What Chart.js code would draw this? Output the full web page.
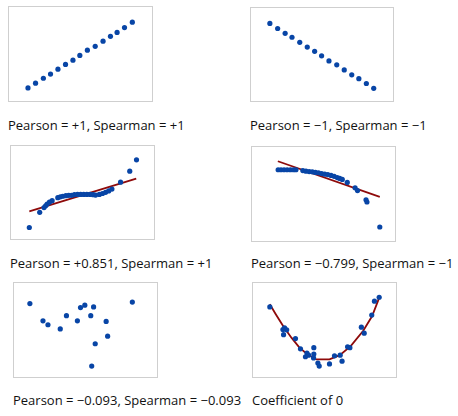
<!DOCTYPE html>
<html>
<head>
<meta charset="utf-8">
<script src="https://cdn.jsdelivr.net/npm/chart.js@4.4.1/dist/chart.umd.min.js"></script>
<style>
  html, body { margin: 0; padding: 0; background: #fff; }
  body { width: 458px; height: 416px; position: relative; overflow: hidden;
         font-family: "Open Sans", "Noto Sans", sans-serif; }
  .box { position: absolute; border: 1px solid #cfcfcf; box-sizing: border-box; }
  .box canvas { display: block; }
  .label { position: absolute; font-size: 13px; line-height: 13px; color: #111; white-space: nowrap; }
</style>
</head>
<body>
<div class="box" style="left:8px;top:6px;width:145px;height:96px"><canvas id="c1"></canvas></div>
<div class="box" style="left:250px;top:7px;width:144px;height:95px"><canvas id="c2"></canvas></div>
<div class="box" style="left:10px;top:145px;width:145px;height:95px"><canvas id="c3"></canvas></div>
<div class="box" style="left:251px;top:146px;width:145px;height:96px"><canvas id="c4"></canvas></div>
<div class="box" style="left:13px;top:282px;width:145px;height:96px"><canvas id="c5"></canvas></div>
<div class="box" style="left:252px;top:282px;width:145px;height:96px"><canvas id="c6"></canvas></div>

<div class="label" style="left:8px;top:119px">Pearson = +1, Spearman = +1</div>
<div class="label" style="left:250px;top:119px">Pearson = −1, Spearman = −1</div>
<div class="label" style="left:10px;top:257px">Pearson = +0.851, Spearman = +1</div>
<div class="label" style="left:251px;top:257px">Pearson = −0.799, Spearman = −1</div>
<div class="label" style="left:13px;top:394px">Pearson = −0.093, Spearman = −0.093</div>
<div class="label" style="left:252px;top:394px">Coefficient of 0</div>

<script>
// values are percent of each panel's box (0..100 on both axes)
const p1X = [11.1, 16.7, 22.5, 27.8, 33.3, 38.9, 44.4, 49.5, 55.1, 60.9, 66.7, 72.2, 77.1, 82.6, 88.4];
const p1Y = [10.5, 16.1, 21.8, 26.7, 32.3, 37.9, 42.8, 48.4, 54.4, 58.9, 64.9, 70.5, 75.1, 80.7, 87.0];

const p2X = [11.1, 16.9, 22.5, 27.6, 33.4, 39.0, 44.5, 49.7, 55.2, 61.0, 66.6, 72.2, 77.5, 83.1, 88.6];
const p2Y = [86.6, 80.6, 74.9, 70.3, 64.3, 58.7, 53.7, 48.4, 42.4, 37.8, 31.8, 26.1, 21.6, 15.9, 10.2];

const p3X = [10.6, 18.3, 21.5, 22.7, 23.8, 25.5, 27.5, 31.7, 33.6, 35.4, 37.7, 39.8, 41.9, 44.0, 46.3,
             48.6, 50.9, 53.2, 55.6, 57.9, 59.7, 62.5, 64.8, 67.1, 69.4, 71.8, 78.2, 85.0, 90.0];
const p3Y = [8.8, 26.7, 32.3, 34.4, 36.5, 38.6, 40.4, 43.9, 44.9, 45.6, 46.3, 46.7, 46.7, 47.4, 47.7,
             47.7, 47.7, 47.7, 47.7, 47.4, 47.0, 47.7, 48.8, 50.2, 51.9, 54.0, 62.1, 75.1, 88.4];
const p3FitX = [10.6, 89.8];
const p3FitY = [27.7, 66.3];

const p4X = [16.4, 18.5, 20.8, 23.1, 25.5, 27.8, 29.6, 34.7, 37.0, 39.4, 41.7, 44.0, 46.3, 48.6,
             50.9, 53.2, 55.6, 57.9, 60.2, 62.0, 63.9, 67.6, 73.4, 75.2, 81.5, 82.2, 91.7];
const p4Y = [78.2, 78.2, 78.2, 78.2, 78.2, 78.2, 78.2, 77.2, 76.5, 76.1, 75.8, 75.1, 74.7, 73.7,
             73.0, 72.6, 71.6, 70.5, 69.1, 68.1, 67.0, 63.5, 57.2, 54.0, 43.2, 40.7, 11.6];
const p4FitX = [16.2, 91.7];
const p4FitY = [88.1, 46.7];

const p5X = [8.8, 18.5, 22.2, 31.3, 35.9, 44.0, 46.3, 49.5, 53.9, 56.0, 54.6, 57.2, 65.3, 66.4, 84.7];
const p5Y = [80.7, 60.7, 56.1, 51.2, 66.7, 60.7, 76.1, 78.9, 66.7, 76.8, 8.1, 34.0, 60.0, 42.8, 82.5];

const p6X = [9.5, 19.2, 20.4, 22.0, 19.7, 28.5, 32.2, 37.0, 35.9, 38.2, 41.9, 42.1, 42.1,
             45.1, 46.1, 53.7, 57.4, 61.6, 63.0, 67.1, 68.8, 77.3, 79.4, 85.0, 87.0, 90.5];
const p6Y = [76.8, 50.5, 52.6, 50.2, 44.6, 40.0, 28.1, 23.2, 18.9, 20.7, 17.5, 22.1, 29.5,
             11.6, 8.1, 10.5, 20.0, 20.7, 13.7, 30.5, 29.5, 53.3, 46.3, 67.4, 83.5, 88.1];
const p6FitX = [9.5, 13.9, 19.7, 25.5, 31.3, 37.0, 44.0, 53.7, 61.3, 69.4, 78.7, 85.2, 90.5];
const p6FitY = [80.0, 68.4, 53.7, 41.1, 29.8, 22.1, 15.8, 15.8, 20.7, 31.2, 49.1, 66.0, 87.4];

const DOT = '#0845a6';
const FIT = '#8e0a0a';

function toPoints(xs, ys) {
  return xs.map((x, i) => ({ x: x, y: ys[i] }));
}

function makePanel(id, xs, ys, fitX, fitY) {
  const canvas = document.getElementById(id);
  const box = canvas.parentElement;
  canvas.width = box.clientWidth;
  canvas.height = box.clientHeight;

  const datasets = [{
    data: toPoints(xs, ys),
    backgroundColor: DOT,
    borderColor: DOT,
    pointRadius: 2.6,
    pointBorderWidth: 0,
    order: 1
  }];
  if (fitX) {
    datasets.push({
      type: 'line',
      data: toPoints(fitX, fitY),
      borderColor: FIT,
      borderWidth: 1.8,
      pointRadius: 0,
      fill: false,
      tension: 0,
      order: 2
    });
  }

  new Chart(canvas, {
    type: 'scatter',
    data: { datasets: datasets },
    options: {
      responsive: false,
      animation: false,
      layout: { padding: 0 },
      plugins: { legend: { display: false }, tooltip: { enabled: false } },
      scales: {
        x: { type: 'linear', min: 0, max: 100, display: false },
        y: { type: 'linear', min: 0, max: 100, display: false }
      }
    }
  });
}

makePanel('c1', p1X, p1Y);
makePanel('c2', p2X, p2Y);
makePanel('c3', p3X, p3Y, p3FitX, p3FitY);
makePanel('c4', p4X, p4Y, p4FitX, p4FitY);
makePanel('c5', p5X, p5Y);
makePanel('c6', p6X, p6Y, p6FitX, p6FitY);
</script>
</body>
</html>
